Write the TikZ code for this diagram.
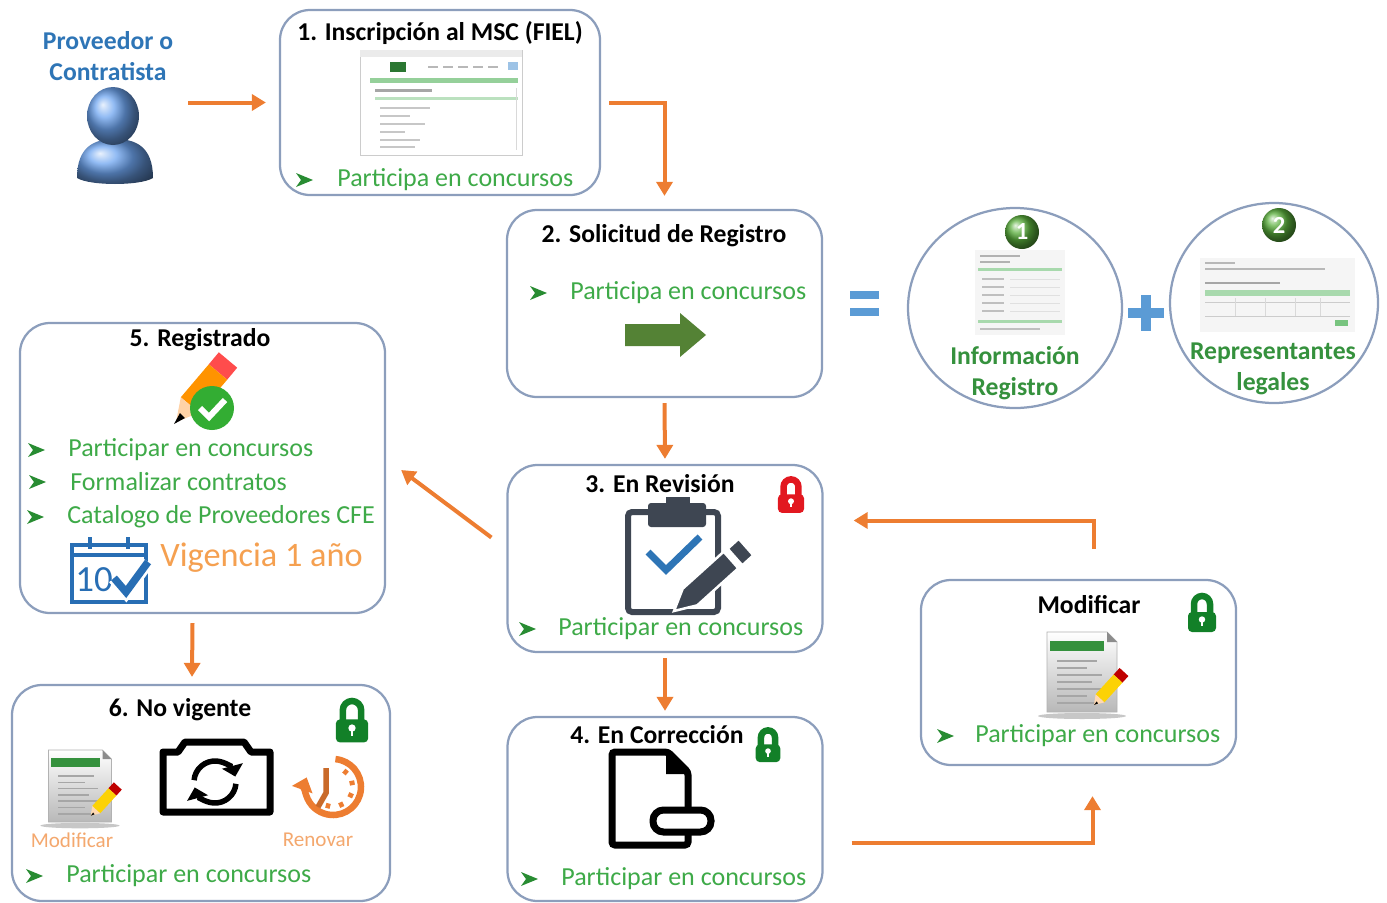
\documentclass[tikz,border=0pt]{standalone}
\usepackage{fontspec}
\setmainfont{Carlito}
\usetikzlibrary{arrows.meta,positioning,calc,shapes.geometric}

\definecolor{flow}{RGB}{237,125,49}
\definecolor{frame}{RGB}{140,158,188}
\definecolor{okgreen}{RGB}{62,170,72}
\definecolor{bulgreen}{RGB}{40,140,50}
\definecolor{lockgreen}{RGB}{18,128,40}
\definecolor{lockred}{RGB}{226,24,32}
\definecolor{actblue}{RGB}{46,117,182}
\definecolor{opblue}{RGB}{91,155,213}
\definecolor{calblue}{RGB}{40,110,180}
\definecolor{icongray}{RGB}{62,70,82}
\definecolor{paleorange}{RGB}{244,168,110}
\definecolor{midorange}{RGB}{245,160,80}
\definecolor{darkarrow}{RGB}{84,130,53}
\definecolor{personblue}{RGB}{110,165,240}
\definecolor{badgegreen}{RGB}{90,175,60}

\tikzset{
  stage/.style={rectangle, rounded corners=6mm, draw=frame, line width=0.45mm,
                fill=white, inner sep=0pt},
  part/.style={ellipse, draw=frame, line width=0.45mm, fill=white, inner sep=0pt},
  ttl/.style={font=\fontsize{14.6}{17.5}\selectfont\bfseries, inner sep=0pt, align=center},
  itm/.style={font=\fontsize{14.8}{17}\selectfont, text=okgreen, anchor=west, inner sep=0pt},
  note/.style={font=\fontsize{12}{14}\selectfont, text=paleorange, inner sep=0pt},
  flowar/.style={-{Triangle[length=2.8mm,width=3.2mm]}, draw=flow, line width=0.8mm},
  syncar/.style={line width=1.1mm, -{Triangle[length=2.2mm,width=4.2mm]}},
  badge/.style={font=\fontsize{14}{14}\selectfont\bfseries, text=white, inner sep=0pt},
  pics/bul/.style={code={
    \fill[bulgreen] (0,-7) -- (17,0) -- (0,7) -- (5,0) -- cycle;}},
  pics/padlock/.style={code={
    \draw[line width=1.3mm, draw=#1] (-8,-2) -- (-8,-12)
      arc[start angle=180, end angle=360, radius=8] -- (8,-2);
    \fill[#1, rounded corners=0.8mm] (-14,-4) rectangle (14,16);
    \fill[white] (0,3.5) circle (3.2);
    \fill[white] (-1.3,4) rectangle (1.3,10);}},
  pics/memo/.style={code={
    \fill[black!22] (0,44) ellipse (44 and 3);
    \shade[top color=white, bottom color=black!28, draw=black!30]
      (-35,-40) -- (25,-40) -- (35,-30) -- (35,40) -- (-35,40) -- cycle;
    \fill[okgreen!85!black] (-32,-31) rectangle (22,-21);
    \fill[black!45] (25,-40) -- (25,-30) -- (35,-30) -- cycle;
    \foreach \yy/\ww in {-12/40,-5/30,2/45,9/35,16/45,23/30,30/40}
      \fill[black!35] (-25,\yy) rectangle ++(\ww,1.8);
    \fill[red!75!black] (37.6,-4.05) -- (46.4,4.05) -- (40.4,10.65) -- (31.6,2.55) -- cycle;
    \fill[yellow!70!orange] (31.6,2.55) -- (40.4,10.65) -- (22.4,30.35) -- (13.6,22.25) -- cycle;
    \fill[orange!30!white] (13.6,22.25) -- (22.4,30.35) -- (12,33) -- cycle;
    \fill[black] (14.6,29.5) -- (16.2,31.4) -- (12,33) -- cycle;}},
}

\begin{document}
\begin{tikzpicture}[x=0.2mm, y=-0.2mm]
\useasboundingbox (0,0) rectangle (1387,903);

% ------------------------------------------------------------ stages
\node[stage, minimum width=64mm, minimum height=37mm]   (b1) at (440,102.5) {};
\node[stage, minimum width=63mm, minimum height=37.4mm] (b2) at (664.5,303.5) {};
\node[stage, minimum width=63mm, minimum height=37.4mm] (b3) at (665,558.5) {};
\node[stage, minimum width=63mm, minimum height=36.8mm] (b4) at (665,809) {};
\node[stage, minimum width=73mm, minimum height=58mm]   (b5) at (202.5,468) {};
\node[stage, minimum width=75.6mm, minimum height=43.2mm] (b6) at (201,793) {};
\node[stage, minimum width=63mm, minimum height=37mm]   (bm) at (1078.5,672.5) {};

\node[part, minimum width=42.8mm, minimum height=40mm] (c1) at (1015,308) {};
\node[part, minimum width=41.6mm, minimum height=40mm] (c2) at (1274,303) {};

% ------------------------------------------------------------ actor
\node[minimum width=16mm, minimum height=19mm, inner sep=0pt] (person) at (115,136) {};
\shade[ball color=personblue] (77,178) .. controls (77,146) and (95,139) .. (115,139)
  .. controls (135,139) and (153,146) .. (153,178)
  .. controls (140,186) and (90,186) .. cycle;
\shade[ball color=personblue] (113,116) ellipse (26 and 29);
\node[ttl, text=actblue] (who) at (108,56) {Proveedor o\\Contratista};

% ------------------------------------------------------------ 1. inscripcion
\node[ttl] (b1h) at (440,33) {1. Inscripción al MSC (FIEL)};
\draw[black!20, fill=white] (360,50) rectangle (522,155);
\fill[black!8] (360,50) rectangle (522,57);
\fill[okgreen!70!black] (390,62) rectangle (406,72);
\foreach \x in {428,443,458,473,488} \fill[black!28] (\x,66) rectangle ++(10,2);
\fill[opblue!60] (508,62) rectangle (518,70);
\fill[okgreen!55] (370,78) rectangle (518,83);
\fill[black!35] (375,89) rectangle (432,92);
\fill[okgreen!35] (375,97) rectangle (518,100);
\foreach \yy/\ww in {107/50,115/30,123/45,131/25,139/40,146/35}
  \fill[black!22] (380,\yy) rectangle ++(\ww,2);
\draw[black!15] (516,88) -- (516,150);
\pic at (296,180) {bul};
\node[itm] (b1t) at (337,180) {Participa en concursos};

% ------------------------------------------------------------ 2. solicitud
\node[ttl] (b2h) at (664,236) {2. Solicitud de Registro};
\pic at (530,293) {bul};
\node[itm] (b2t) at (570,293) {Participa en concursos};
\fill[darkarrow] (625,324) -- (680,324) -- (680,313) -- (706,335) -- (680,357)
  -- (680,346) -- (625,346) -- cycle;

% = and +
\fill[opblue] (850,291) rectangle (879,299);
\fill[opblue] (850,308) rectangle (879,316);
\fill[opblue] (1128,308) rectangle (1164,318);
\fill[opblue] (1141,295) rectangle (1151,331);

% registro form
\fill[black!4] (975,250) rectangle (1065,335);
\foreach \yy/\ww in {255/40,261/30} \fill[black!30] (980,\yy) rectangle ++(\ww,1.5);
\fill[okgreen!45] (978,268) rectangle (1062,271);
\foreach \yy in {278,286,294,302,310} {
  \fill[black!25] (982,\yy) rectangle ++(22,1.5);
  \draw[black!12] (1010,\yy+1) -- (1060,\yy+1);}
\fill[okgreen!45] (978,320) rectangle (1062,323);
\fill[black!25] (980,328) rectangle (1040,329.5);
\shade[ball color=badgegreen] (1022,232) circle (17);
\node[badge] (n1) at (1022,232) {1};
\node[ttl, text=okgreen!85!black, align=center] (c1t) at (1015,373) {Información\\Registro};

% representantes table
\fill[black!4] (1200,258) rectangle (1355,332);
\foreach \yy/\ww in {262/30,268/120} \fill[black!28] (1205,\yy) rectangle ++(\ww,1.5);
\fill[black!35] (1205,282) rectangle (1280,284);
\fill[okgreen!45] (1205,290) rectangle (1350,296);
\draw[black!20] (1205,302) -- (1350,302);
\foreach \x in {1235,1265,1295,1320} \draw[black!15] (\x,298) -- (\x,316);
\draw[black!20] (1205,316) -- (1350,316);
\fill[okgreen!70] (1335,320) rectangle (1348,326);
\shade[ball color=badgegreen] (1279,225) circle (17);
\node[badge] (n2) at (1279,225) {2};
\node[ttl, text=okgreen!85!black, align=center] (c2t) at (1273,369) {Representantes\\legales};

% ------------------------------------------------------------ 3. revision
\node[ttl] (b3h) at (660,484) {3. En Revisión};
\pic[scale=0.93] at (791,498) {padlock=lockred};
\draw[icongray, line width=1.2mm, rounded corners=0.8mm] (628,512) rectangle (718,612);
\fill[icongray, rounded corners=0.6mm] (648,503) rectangle (706,527);
\fill[icongray] (666,497) rectangle (690,505);
\draw[actblue, line width=1.4mm] (648,552) -- (666,570) -- (700,537);
\filldraw[icongray, draw=white, line width=0.5mm] (753.3,555.3) -- (738.7,538.7)
  -- (727.7,548.7) -- (742.3,565.3) -- cycle;
\filldraw[icongray, draw=white, line width=0.5mm] (723.7,551.7) -- (738.3,568.3)
  -- (697.3,605.3) -- (674,611) -- (682.7,588.7) -- cycle;
\pic at (519,629) {bul};
\node[itm] (b3t) at (558,629) {Participar en concursos};

% ------------------------------------------------------------ 4. correccion
\node[ttl] (b4h) at (657,735) {4. En Corrección};
\pic[scale=0.88] at (768,748) {padlock=lockgreen};
\draw[line width=1.4mm, rounded corners=0.6mm] (612,752) -- (668,752) -- (688,772)
  -- (688,845) -- (612,845) -- cycle;
\fill (666,752) -- (688,774) -- (666,774) -- cycle;
\draw[line width=1.4mm, fill=white, rounded corners=2.1mm] (653,810) rectangle (711,832);
\pic at (521,879) {bul};
\node[itm] (b4t) at (561,879) {Participar en concursos};

% ------------------------------------------------------------ modificar
\node[ttl] (bmh) at (1089,605) {Modificar};
\pic at (1202,616) {padlock=lockgreen};
\pic at (1082,672) {memo};
\pic at (937,736) {bul};
\node[itm] (bmt) at (975,736) {Participar en concursos};

% ------------------------------------------------------------ 5. registrado
\node[ttl] (b5h) at (200,340) {5. Registrado};
\fill[red!70!white] (237.2,367.7) -- (218.8,352.3) -- (208.8,364.3) -- (227.2,379.7) -- cycle;
\fill[orange!85!yellow] (227.2,379.7) -- (208.8,364.3) -- (180.8,397.3) -- (199.2,412.7) -- cycle;
\fill[orange!35!white] (180.8,397.3) -- (199.2,412.7) -- (176,422) -- cycle;
\fill[black] (180,413) -- (185,418) -- (174,424) -- cycle;
\fill[green!60!black!80] (212,408) circle (22);
\draw[white, line width=1.2mm] (200,408) -- (209,417) -- (225,400);
\pic at (28,450) {bul};
\node[itm] (b5t1) at (68,450) {Participar en concursos};
\pic at (29,482) {bul};
\node[itm] (b5t2) at (70,482) {Formalizar contratos};
\pic at (27,517) {bul};
\node[itm] (b5t3) at (67,517) {Catalogo de Proveedores CFE};
\draw[calblue, line width=0.8mm] (72,545) rectangle (146,602);
\draw[calblue, line width=0.8mm] (72,555) -- (146,555);
\draw[calblue, line width=0.9mm] (90,537) -- (90,549) (128,537) -- (128,549);
\node[font=\fontsize{21}{21}\selectfont, text=calblue, inner sep=0pt] (cal) at (94,580) {10};
\draw[white, line width=2.6mm] (114,578) -- (126,592) -- (148,562);
\draw[calblue, line width=1.5mm] (114,578) -- (126,592) -- (148,562);
\node[font=\fontsize{19.5}{20}\selectfont, text=midorange, inner sep=0pt, anchor=west,
      right=9.4mm of cal.east, yshift=4.4mm] (vig) {Vigencia 1 año};

% ------------------------------------------------------------ 6. no vigente
\node[ttl] (b6h) at (180,710) {6. No vigente};
\pic[scale=1.15] at (352,724) {padlock=lockgreen};
\pic[scale=0.9] at (80,786) {memo};
\node[note] (b6m) at (72,840) {Modificar};
\draw[line width=1.4mm, line join=round] (163,752) -- (178,752) -- (185,742)
  -- (244,742) -- (251,752) -- (270,752) -- (270,812) -- (163,812) -- cycle;
\draw[syncar] ($(215,782)+(185:21)$) arc[start angle=185, end angle=345, radius=21];
\draw[syncar] ($(215,782)+(5:21)$) arc[start angle=5, end angle=165, radius=21];
\foreach \a in {-50,-12,25,65,105}
  \draw[flow, line width=0.9mm] ($(333,787)+(\a:17)$) -- ($(333,787)+(\a:22)$);
\draw[flow, line width=1.3mm, -{Triangle[length=2.6mm,width=4.2mm]}]
  ($(333,787)+(-85:28)$) arc[start angle=-85, end angle=200, radius=28];
\draw[flow!85!black, line width=1.1mm] (326,768) -- (326,793) -- (318,807);
\node[note] (b6r) at (318,840) {Renovar};
\pic at (26,876) {bul};
\node[itm] (b6t) at (66,876) {Participar en concursos};

% ------------------------------------------------------------ flow
\draw[flowar, shorten <=6.6mm, shorten >=2.6mm] (person.east |- b1.west) -- (b1.west);
\draw[flowar, shorten <=1.6mm, shorten >=2.6mm] (b1.east) -| (b2.north);
\draw[flowar, shorten <=1mm, shorten >=1mm] (b2.south) -- (b3.north);
\draw[flowar, shorten <=1mm, shorten >=1mm] (b3.south) -- (b4.north);
\draw[flowar] ($(b3.west)+(-15,-21)$) -- ($(b5.east)+(15,2)$);
\draw[flowar] ($(b5.south)+(-10,9)$) -- ($(b6.north)+(-9,-7)$);
\draw[flowar] ($(b4.east)+(28,34)$) -| ($(bm.south)+(14,30)$);
\draw[flowar] ($(bm.north)+(15,-30)$) |- ($(b3.east)+(30,-38)$);

\end{tikzpicture}
\end{document}
